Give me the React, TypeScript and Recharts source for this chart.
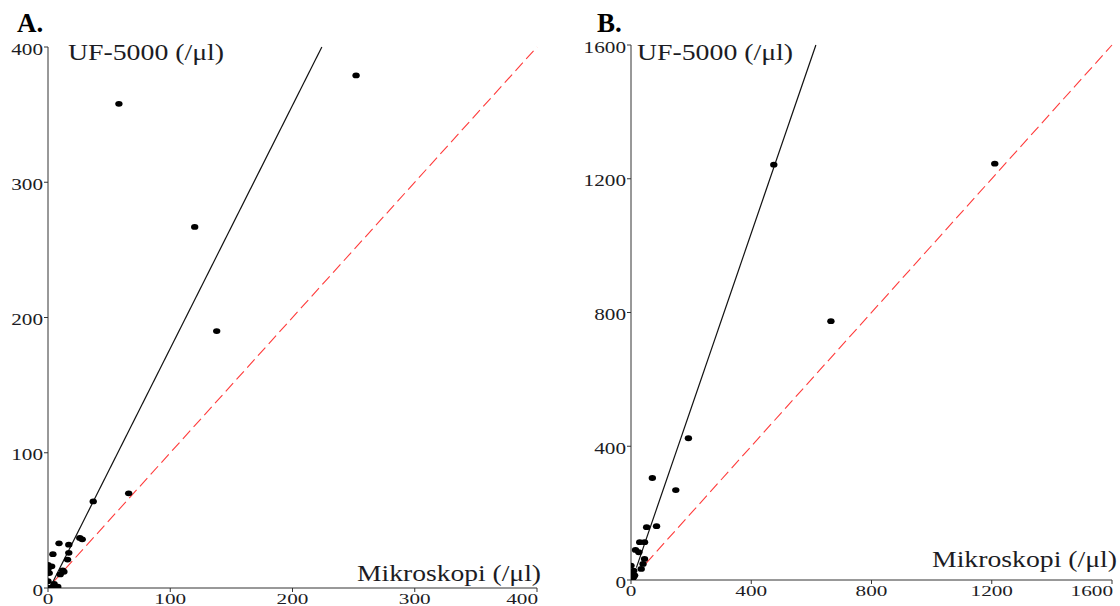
import React from "react";
import { ScatterChart, Scatter, XAxis, YAxis, ReferenceLine } from "recharts";

// panel A: counts up to 400 /µl
const ticksA = [0, 100, 200, 300, 400];
const mikroA = [58, 120, 138, 252, 66, 37, 26, 28, 9, 17, 4, 17, 16, 0, 3, 0, 12, 10, 13, 1, 4, 8, 2, 0, 5, 0];
const ufA = [358, 267, 190, 379, 70, 64, 37, 36, 33, 32, 25, 26, 21, 17, 16, 14, 13, 10, 12, 11, 1, 1, 0, 0, 3, 5];
const fitA = [{ x: 2, y: 1 }, { x: 224, y: 400 }];
const identA = [{ x: 5, y: 5 }, { x: 400, y: 400 }];

// panel B: counts up to 1600 /µl
const ticksB = [0, 400, 800, 1200, 1600];
const mikroB = [475, 1210, 665, 191, 71, 149, 52, 85, 29, 45, 15, 26, 45, 0, 40, 34, 9, 4, 0, 9, 2, 6, 12, 0];
const ufB = [1242, 1245, 774, 424, 305, 269, 158, 161, 113, 113, 90, 83, 63, 43, 48, 33, 28, 18, 13, 10, 3, 6, 14, 0];
const fitB = [{ x: 18, y: 37 }, { x: 615, y: 1600 }];
const identB = [{ x: 50, y: 50 }, { x: 1600, y: 1600 }];

const toPoints = (xs: number[], ys: number[]) => xs.map((x, i) => ({ x, y: ys[i] }));

const serif = "Liberation Serif, serif";
const inkColor = "#1c1c24";

const Dot = (props: any) => (
  <ellipse cx={props.cx} cy={props.cy} rx={3.7} ry={2.9} fill="#000" />
);

const YTick = (props: any) => {
  const label = String(props.payload.value);
  return (
    <text
      x={props.x}
      y={props.y + 2}
      dy="0.355em"
      textAnchor="end"
      fontFamily={serif}
      fontSize={16}
      fill={inkColor}
      textLength={label.length * 10.6}
      lengthAdjust="spacingAndGlyphs"
    >
      {label}
    </text>
  );
};

const XTick = (props: any) => {
  const label = String(props.payload.value);
  const last = props.index === props.visibleTicksCount - 1;
  return (
    <text
      x={props.x + (last ? 1 : 0)}
      y={props.y}
      dy="0.71em"
      textAnchor={last ? "end" : "middle"}
      fontFamily={serif}
      fontSize={15}
      fill={inkColor}
      textLength={label.length * 10.6}
      lengthAdjust="spacingAndGlyphs"
    >
      {label}
    </text>
  );
};

interface PanelProps {
  left: number;
  width: number;
  axisWidth: number;
  top: number;
  right: number;
  xHeight: number;
  max: number;
  ticks: number[];
  points: { x: number; y: number }[];
  fit: { x: number; y: number }[];
  ident: { x: number; y: number }[];
}

const Panel = (p: PanelProps) => (
  <div style={{ position: "absolute", left: p.left, top: 0 }}>
    <ScatterChart
      width={p.width}
      height={606}
      margin={{ top: p.top, right: p.right, bottom: 0, left: 0 }}
    >
      <XAxis
        type="number"
        dataKey="x"
        domain={[0, p.max]}
        ticks={p.ticks}
        height={p.xHeight}
        stroke="#333"
        tickSize={4}
        tickMargin={1}
        tick={<XTick />}
        interval={0}
        allowDataOverflow
      />
      <YAxis
        type="number"
        dataKey="y"
        domain={[0, p.max]}
        ticks={p.ticks}
        width={p.axisWidth}
        stroke="#333"
        tickSize={4}
        tickMargin={1}
        tick={<YTick />}
        interval={0}
        allowDataOverflow
      />
      <ReferenceLine
        segment={p.ident}
        stroke="#ff3b3b"
        strokeWidth={1.1}
        strokeDasharray="11 5"
        ifOverflow="visible"
      />
      <ReferenceLine segment={p.fit} stroke="#111" strokeWidth={1.2} ifOverflow="visible" />
      <Scatter data={p.points} fill="#000" shape={<Dot />} isAnimationActive={false} />
    </ScatterChart>
  </div>
);

const Title = ({ x, y, len, children }: any) => (
  <text
    x={x}
    y={y}
    fontFamily={serif}
    fontSize={24}
    fill={inkColor}
    textLength={len}
    lengthAdjust="spacingAndGlyphs"
  >
    {children}
  </text>
);

export default function App() {
  return (
    <div
      style={{
        position: "absolute",
        left: 0,
        top: 0,
        width: 1120,
        height: 606,
        background: "#fff",
        overflow: "hidden",
      }}
    >
      <Panel
        left={0}
        width={560}
        axisWidth={48}
        top={47}
        right={23}
        xHeight={18}
        max={400}
        ticks={ticksA}
        points={toPoints(mikroA, ufA)}
        fit={fitA}
        ident={identA}
      />
      <Panel
        left={560}
        width={560}
        axisWidth={71}
        top={45}
        right={8}
        xHeight={26}
        max={1600}
        ticks={ticksB}
        points={toPoints(mikroB, ufB)}
        fit={fitB}
        ident={identB}
      />
      <svg
        width={1120}
        height={606}
        style={{ position: "absolute", left: 0, top: 0, pointerEvents: "none" }}
      >
        <text x={17} y={32} fontFamily={serif} fontSize={27} fontWeight="bold" fill="#000">
          A.
        </text>
        <text x={597} y={32} fontFamily={serif} fontSize={27} fontWeight="bold" fill="#000">
          B.
        </text>
        <Title x={68} y={60} len={156}>UF-5000 (/μl)</Title>
        <Title x={637} y={60} len={156}>UF-5000 (/μl)</Title>
        <Title x={357} y={581} len={184}>Mikroskopi (/μl)</Title>
        <Title x={932} y={567} len={185}>Mikroskopi (/μl)</Title>
      </svg>
    </div>
  );
}
